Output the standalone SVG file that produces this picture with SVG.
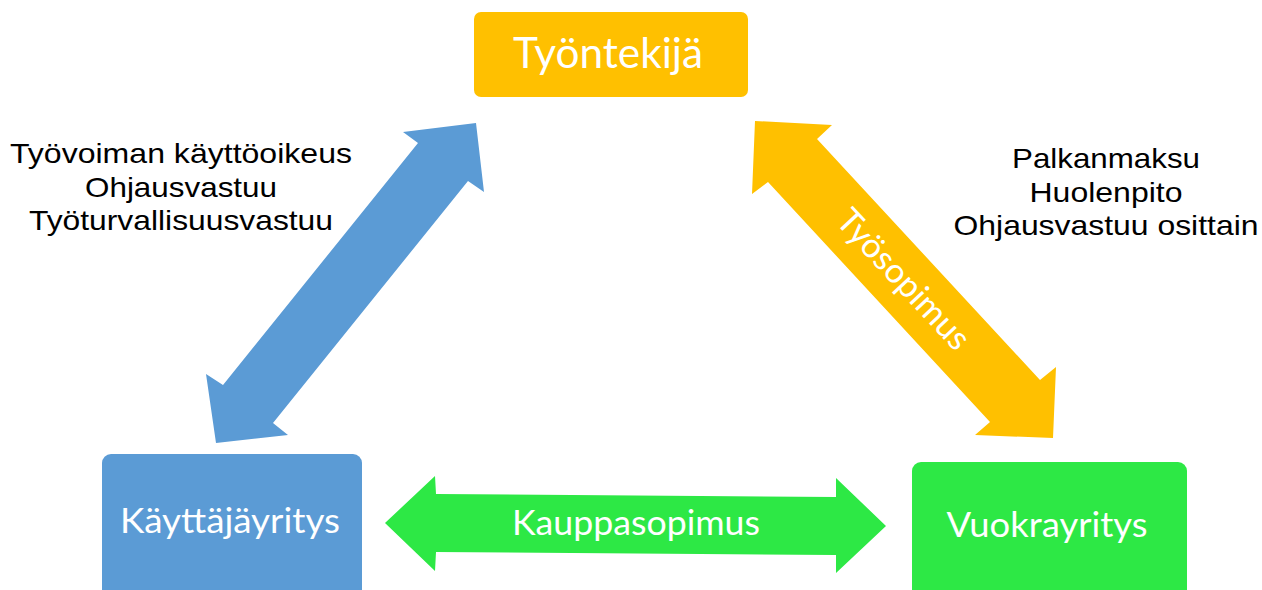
<svg xmlns="http://www.w3.org/2000/svg" width="1262" height="590" viewBox="0 0 1262 590">
<style>
.lbl{font-family:Lato,"Open Sans",sans-serif;fill:#fff;text-anchor:middle}
.note{font-family:"Liberation Sans",Arial,sans-serif;font-size:28.5px;fill:#000;text-anchor:middle}
</style>
<rect width="1262" height="590" fill="#fff"/>
<g id="connectors">
<g id="arrow-blue">
<polygon fill="#5B9BD5" points="476,123 484,192 468,181 273,423 288,435 216,443 206,374 223,385 418,143 403,132"/>
</g>
<g id="arrow-gold">
<polygon fill="#FFC000" points="755,121 832,125 817,139 1040,380 1056,367 1053,438 975,435 990,422 768,182 752,194"/>
<text class="lbl" font-size="34" transform="translate(904,279) rotate(47)" x="0" y="12" textLength="178" lengthAdjust="spacingAndGlyphs">Työsopimus</text>
</g>
<g id="arrow-green">
<polygon fill="#2DE845" points="385,523 435,476 436,494 836,497 836,478 886,526 836,573 836,555 436,552 435,571"/>
<text class="lbl" font-size="34" x="636" y="535" textLength="248" lengthAdjust="spacingAndGlyphs">Kauppasopimus</text>
</g>
</g>
<g id="node-tyontekija">
<rect x="474" y="12" width="274" height="85" rx="7" fill="#FFC000"/>
<text class="lbl" font-size="42" x="608" y="68" textLength="190" lengthAdjust="spacingAndGlyphs">Työntekijä</text>
</g>
<g id="node-kayttajayritys">
<rect x="102" y="454" width="260" height="145" rx="9" fill="#5B9BD5"/>
<text class="lbl" font-size="34" x="230" y="533" textLength="220" lengthAdjust="spacingAndGlyphs">Käyttäjäyritys</text>
</g>
<g id="node-vuokrayritys">
<rect x="912" y="462" width="275" height="140" rx="9" fill="#2DE845"/>
<text class="lbl" font-size="34" x="1047" y="537" textLength="201" lengthAdjust="spacingAndGlyphs">Vuokrayritys</text>
</g>
<g id="note-left">
<text class="note" x="181" y="163" textLength="342" lengthAdjust="spacingAndGlyphs">Työvoiman käyttöoikeus</text>
<text class="note" x="181" y="197" textLength="192" lengthAdjust="spacingAndGlyphs">Ohjausvastuu</text>
<text class="note" x="181" y="230" textLength="304" lengthAdjust="spacingAndGlyphs">Työturvallisuusvastuu</text>
</g>
<g id="note-right">
<text class="note" x="1106" y="168" textLength="188" lengthAdjust="spacingAndGlyphs">Palkanmaksu</text>
<text class="note" x="1106" y="202" textLength="153" lengthAdjust="spacingAndGlyphs">Huolenpito</text>
<text class="note" x="1106" y="235" textLength="305" lengthAdjust="spacingAndGlyphs">Ohjausvastuu osittain</text>
</g>
</svg>
